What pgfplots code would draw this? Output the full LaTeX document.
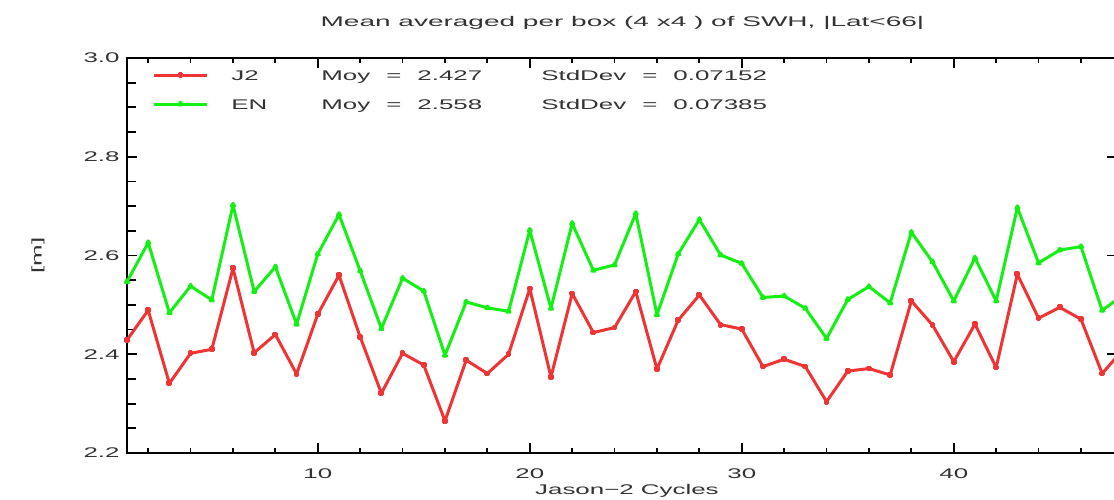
\documentclass[border=0pt]{standalone}
\usepackage{fontspec}
\setmainfont{Liberation Sans}[FakeStretch=1.85]
\newfontfamily\titlefont{Liberation Sans}[FakeStretch=2.0]
\usepackage{pgfplots}
\pgfplotsset{compat=1.18}
\definecolor{jred}{RGB}{238,52,52}
\definecolor{engreen}{RGB}{20,240,20}

\pgfplotstableread{
n J2 EN
1 2.429 2.547
2 2.489 2.626
3 2.341 2.484
4 2.402 2.538
5 2.410 2.510
6 2.574 2.702
7 2.403 2.527
8 2.440 2.577
9 2.360 2.461
10 2.481 2.603
11 2.560 2.683
12 2.435 2.569
13 2.321 2.452
14 2.402 2.554
15 2.378 2.528
16 2.265 2.398
17 2.388 2.506
18 2.361 2.494
19 2.400 2.487
20 2.533 2.651
21 2.354 2.493
22 2.523 2.665
23 2.444 2.570
24 2.454 2.581
25 2.527 2.685
26 2.370 2.480
27 2.469 2.603
28 2.520 2.673
29 2.460 2.601
30 2.451 2.584
31 2.375 2.515
32 2.390 2.518
33 2.375 2.493
34 2.304 2.432
35 2.366 2.511
36 2.371 2.537
37 2.358 2.504
38 2.508 2.647
39 2.459 2.587
40 2.385 2.508
41 2.461 2.595
42 2.373 2.508
43 2.562 2.697
44 2.473 2.585
45 2.495 2.611
46 2.471 2.618
47 2.361 2.489
48 2.410 2.520
}\datatable

\begin{document}
\begin{tikzpicture}
\begin{axis}[
  name=ax,
  scale only axis,
  width=495pt, height=197.5pt,
  xmin=1, xmax=47.7, ymin=2.2, ymax=3.0,
  xtick={10,20,30,40},
  minor xtick={2,4,...,46},
  ytick={2.2,2.4,2.6,2.8,3.0},
  extra y ticks={2.25,2.3,2.35,2.45,2.5,2.55,2.65,2.7,2.75,2.85,2.9,2.95},
  extra y tick labels={},
  extra y tick style={ytick pos=left, major tick length=4.5pt},
  /pgf/number format/assume math mode=true,
  tick align=inside,
  major tick length=5pt, minor tick length=2.5pt,
  axis line style={line width=0.9pt, black},
  every tick/.style={line width=0.9pt, black},
  every tick label/.append style={font=\fontsize{7}{8}\selectfont, text=black!80},
  xticklabel style={anchor=base, inner sep=0pt, yshift=-12.5pt},
  yticklabel style={anchor=east, inner sep=0pt, xshift=-3.5pt,
    /pgf/number format/fixed, /pgf/number format/fixed zerofill, /pgf/number format/precision=1},
  title={Mean averaged per box (4 x4 ) of SWH, |Lat<66|},
  title style={at={(axis description cs:0.5005,1.0506)}, anchor=base, inner sep=0pt, text=black!80, font=\titlefont\fontsize{7}{8}\selectfont},
  xlabel={Jason−2 Cycles},
  xlabel style={at={(axis description cs:0.505,-0.1063)}, anchor=base, inner sep=0pt, text=black!80, font=\fontsize{7}{8}\selectfont},
  ylabel={[m]},
  ylabel style={at={(axis description cs:-0.0899,0.5)}, anchor=center, inner sep=0pt, text=black!80, font=\fontsize{7}{8}\selectfont},
  legend cell align=left,
  legend image code/.code={\draw[#1, mark repeat=2, mark phase=2] plot coordinates {(0pt,2.5pt) (13.25pt,2.5pt) (26.5pt,2.5pt)};},
  legend style={at={(axis description cs:0,1)}, anchor=north west, xshift=12.5pt, yshift=-5.9pt,
    draw=none, fill=none, inner sep=0pt, row sep=7.8pt, /tikz/column sep=11.5pt,
    nodes={inner sep=0pt, anchor=base west, text=black!80}, font=\fontsize{7}{8}\selectfont},
]
\addplot[color=jred, line width=1.5pt, line join=round, mark=square*, mark size=0.7pt, mark options={solid}] table[x=n, y=J2] {\datatable};
\addlegendentry{\makebox[45pt][l]{J2}\makebox[110pt][l]{Moy\hspace{8pt}=\hspace{8pt}2.427}StdDev\hspace{8pt}=\hspace{8pt}0.07152}
\addplot[color=engreen, line width=1.5pt, line join=round, mark=triangle*, mark size=0.9pt, mark options={solid}] table[x=n, y=EN] {\datatable};
\addlegendentry{\makebox[45pt][l]{EN}\makebox[110pt][l]{Moy\hspace{8pt}=\hspace{8pt}2.558}StdDev\hspace{8pt}=\hspace{8pt}0.07385}
\end{axis}
\pgfresetboundingbox
\path[use as bounding box] ([xshift=-63.5pt,yshift=-23pt]ax.south west) rectangle ([xshift=493.5pt,yshift=29pt]ax.north west);
\end{tikzpicture}
\end{document}
